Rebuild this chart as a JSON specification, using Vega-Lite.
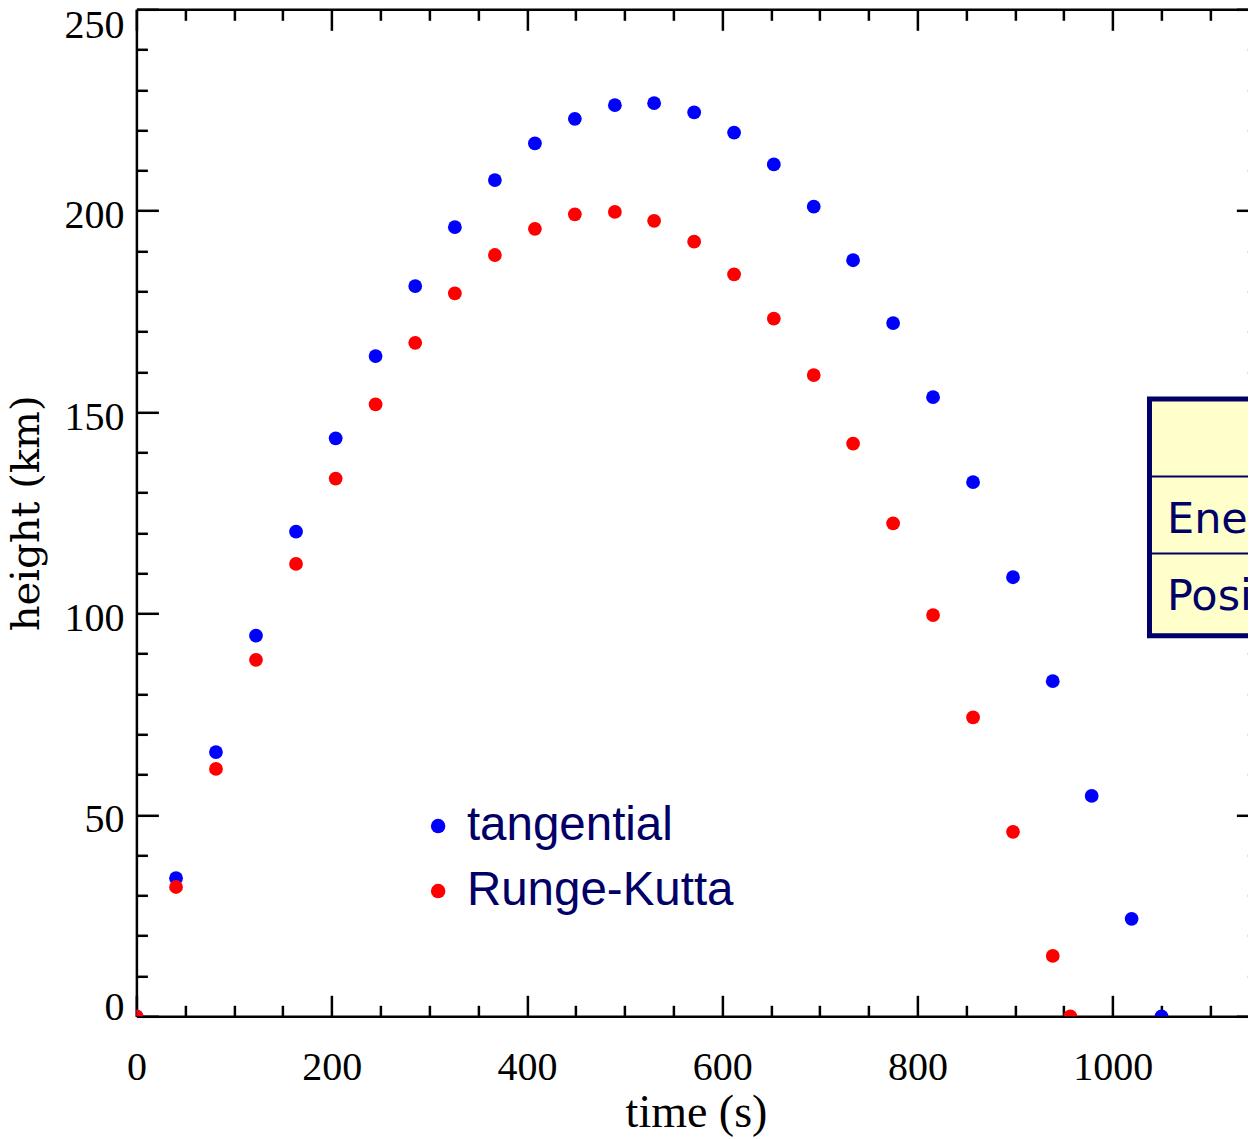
{
  "$schema": "https://vega.github.io/schema/vega-lite/v6.json",
  "autosize": {"type": "none"},
  "padding": {"left": 136.4, "top": 9.3, "right": 0, "bottom": 122.7},
  "width": 1112,
  "height": 1007,
  "background": "white",
  "config": {
    "view": {"stroke": null},
    "axis": {"grid": false, "domainColor": "black", "tickColor": "black", "domainWidth": 2.5, "tickWidth": 2.5, "labelColor": "black", "titleColor": "black", "labelFont": "Liberation Serif", "titleFont": "Liberation Serif", "titleFontWeight": "normal"}
  },
  "datasets": {
    "trajectories": [
      {"t": 0, "h": 0, "method": "tangential"},
      {"t": 40.6, "h": 34.3, "method": "tangential"},
      {"t": 81.5, "h": 65.6, "method": "tangential"},
      {"t": 122.5, "h": 94.5, "method": "tangential"},
      {"t": 163.5, "h": 120.3, "method": "tangential"},
      {"t": 204.1, "h": 143.5, "method": "tangential"},
      {"t": 245.0, "h": 163.9, "method": "tangential"},
      {"t": 285.6, "h": 181.3, "method": "tangential"},
      {"t": 326.2, "h": 195.9, "method": "tangential"},
      {"t": 367.2, "h": 207.6, "method": "tangential"},
      {"t": 408.2, "h": 216.7, "method": "tangential"},
      {"t": 449.1, "h": 222.8, "method": "tangential"},
      {"t": 490.1, "h": 226.2, "method": "tangential"},
      {"t": 530.3, "h": 226.7, "method": "tangential"},
      {"t": 571.3, "h": 224.4, "method": "tangential"},
      {"t": 612.2, "h": 219.4, "method": "tangential"},
      {"t": 652.9, "h": 211.5, "method": "tangential"},
      {"t": 693.8, "h": 201.0, "method": "tangential"},
      {"t": 734.1, "h": 187.7, "method": "tangential"},
      {"t": 775.1, "h": 172.1, "method": "tangential"},
      {"t": 816.0, "h": 153.7, "method": "tangential"},
      {"t": 857.0, "h": 132.6, "method": "tangential"},
      {"t": 897.9, "h": 109.0, "method": "tangential"},
      {"t": 938.6, "h": 83.2, "method": "tangential"},
      {"t": 978.5, "h": 54.7, "method": "tangential"},
      {"t": 1019.4, "h": 24.2, "method": "tangential"},
      {"t": 1050, "h": 0, "method": "tangential"},
      {"t": 0, "h": 0, "method": "Runge-Kutta"},
      {"t": 40.6, "h": 32.1, "method": "Runge-Kutta"},
      {"t": 81.5, "h": 61.4, "method": "Runge-Kutta"},
      {"t": 122.5, "h": 88.5, "method": "Runge-Kutta"},
      {"t": 163.5, "h": 112.3, "method": "Runge-Kutta"},
      {"t": 204.1, "h": 133.5, "method": "Runge-Kutta"},
      {"t": 245.0, "h": 151.9, "method": "Runge-Kutta"},
      {"t": 285.6, "h": 167.2, "method": "Runge-Kutta"},
      {"t": 326.2, "h": 179.5, "method": "Runge-Kutta"},
      {"t": 367.2, "h": 189.0, "method": "Runge-Kutta"},
      {"t": 408.2, "h": 195.5, "method": "Runge-Kutta"},
      {"t": 449.1, "h": 199.1, "method": "Runge-Kutta"},
      {"t": 490.1, "h": 199.7, "method": "Runge-Kutta"},
      {"t": 530.3, "h": 197.5, "method": "Runge-Kutta"},
      {"t": 571.3, "h": 192.3, "method": "Runge-Kutta"},
      {"t": 612.2, "h": 184.2, "method": "Runge-Kutta"},
      {"t": 652.9, "h": 173.2, "method": "Runge-Kutta"},
      {"t": 693.8, "h": 159.2, "method": "Runge-Kutta"},
      {"t": 734.1, "h": 142.2, "method": "Runge-Kutta"},
      {"t": 775.1, "h": 122.4, "method": "Runge-Kutta"},
      {"t": 816.0, "h": 99.6, "method": "Runge-Kutta"},
      {"t": 857.0, "h": 74.2, "method": "Runge-Kutta"},
      {"t": 897.9, "h": 45.8, "method": "Runge-Kutta"},
      {"t": 938.6, "h": 15.0, "method": "Runge-Kutta"},
      {"t": 956.6, "h": 0, "method": "Runge-Kutta"}
    ],
    "table_box": [{"t_start": 1037.7, "t_end": 1400, "h_bottom": 94.5, "h_top": 153.25}],
    "table_lines": [
      {"t_start": 1037.7, "t_end": 1400, "h": 134.0},
      {"t_start": 1037.7, "t_end": 1400, "h": 114.9}
    ],
    "table_text": [
      {"t": 1055.6, "h": 119.9, "label": "Ene"},
      {"t": 1055.6, "h": 100.9, "label": "Posi"}
    ]
  },
  "resolve": {"axis": {"x": "independent", "y": "independent"}},
  "layer": [
    {
      "data": {"name": "table_box"},
      "mark": {"type": "rect", "fill": "#FFFFCC", "stroke": "#000066", "strokeWidth": 5, "clip": true},
      "encoding": {
        "x": {"field": "t_start", "type": "quantitative", "scale": {"domain": [0, 1139], "nice": false, "zero": false},
          "axis": {"orient": "top", "values": [0,50,100,150,200,250,300,350,400,450,500,550,600,650,700,750,800,850,900,950,1000,1050,1100], "labels": false, "title": null, "domain": true, "ticks": true,
            "tickSize": {"condition": {"test": "datum.value % 200 === 0", "value": -21}, "value": -11}}},
        "x2": {"field": "t_end"},
        "y": {"field": "h_bottom", "type": "quantitative", "scale": {"domain": [0, 250], "nice": false, "zero": false},
          "axis": {"orient": "right", "offset": 10, "values": [0,10,20,30,40,50,60,70,80,90,100,110,120,130,140,150,160,170,180,190,200,210,220,230,240,250], "labels": false, "title": null, "domain": false, "ticks": true,
            "tickSize": {"condition": {"test": "datum.value % 50 === 0", "value": -22}, "value": -11}}},
        "y2": {"field": "h_top"}
      }
    },
    {
      "data": {"name": "table_lines"},
      "mark": {"type": "rule", "stroke": "#000066", "strokeWidth": 2, "clip": true},
      "encoding": {
        "x": {"field": "t_start", "type": "quantitative", "scale": {"domain": [0, 1139], "nice": false, "zero": false},
          "axis": {"orient": "bottom", "values": [0,50,100,150,200,250,300,350,400,450,500,550,600,650,700,750,800,850,900,950,1000,1050,1100], "labels": false, "title": null, "domain": false, "ticks": true,
            "tickSize": {"condition": {"test": "datum.value % 200 === 0", "value": -21}, "value": -11}}},
        "x2": {"field": "t_end"},
        "y": {"field": "h", "type": "quantitative", "scale": {"domain": [0, 250], "nice": false, "zero": false},
          "axis": {"orient": "left", "values": [0,10,20,30,40,50,60,70,80,90,100,110,120,130,140,150,160,170,180,190,200,210,220,230,240,250], "labels": false, "title": null, "domain": false, "ticks": true,
            "tickSize": {"condition": {"test": "datum.value % 50 === 0", "value": -22}, "value": -11}}}
      }
    },
    {
      "data": {"name": "table_text"},
      "mark": {"type": "text", "font": "DejaVu Sans", "fontSize": 43, "color": "#000066", "align": "left", "baseline": "alphabetic", "clip": true},
      "encoding": {
        "x": {"field": "t", "type": "quantitative", "scale": {"domain": [0, 1139], "nice": false, "zero": false}, "axis": null},
        "y": {"field": "h", "type": "quantitative", "scale": {"domain": [0, 250], "nice": false, "zero": false}, "axis": null},
        "text": {"field": "label"}
      }
    },
    {
      "data": {"name": "trajectories"},
      "mark": {"type": "circle", "size": 190, "opacity": 1, "clip": true},
      "encoding": {
        "x": {"field": "t", "type": "quantitative", "scale": {"domain": [0, 1139], "nice": false, "zero": false},
          "axis": {"orient": "bottom", "values": [0, 200, 400, 600, 800, 1000], "format": "d", "ticks": false, "domain": true, "labelFlush": false,
            "labelFontSize": 40, "labelPadding": 63, "labelBaseline": "alphabetic", "labelAlign": "center",
            "title": "time (s)", "titleFontSize": 46, "titleX": 559.6, "titleY": 110.4, "titleBaseline": "alphabetic", "titleAlign": "center"}},
        "y": {"field": "h", "type": "quantitative", "scale": {"domain": [0, 250], "nice": false, "zero": false},
          "axis": {"orient": "left", "values": [0, 50, 100, 150, 200, 250], "format": "d", "ticks": false, "domain": true, "labelFlush": false,
            "labelFontSize": 40, "labelPadding": 12.4, "labelBaseline": "alphabetic",
            "labelOffset": {"condition": [{"test": "datum.value === 250", "value": 28}, {"test": "datum.value === 0", "value": 3}], "value": 17},
            "title": "height (km)", "titleFont": "DejaVu Serif", "titleFontSize": 40, "titleAngle": -90, "titleX": -97.4, "titleY": 503.5, "titleBaseline": "alphabetic", "titleAlign": "center"}},
        "color": {"field": "method", "type": "nominal",
          "scale": {"domain": ["tangential", "Runge-Kutta"], "range": ["#0000FF", "#FF0000"]},
          "legend": {"orient": "none", "legendX": 278, "legendY": 793, "title": null, "padding": 0, "symbolType": "circle", "symbolSize": 210, "symbolStrokeWidth": 0, "symbolOpacity": 1,
            "labelFont": "Liberation Sans", "labelFontSize": 47.5, "labelColor": "#000066", "labelOffset": 5, "rowPadding": 16, "labelLimit": 0}}
      }
    }
  ]
}
